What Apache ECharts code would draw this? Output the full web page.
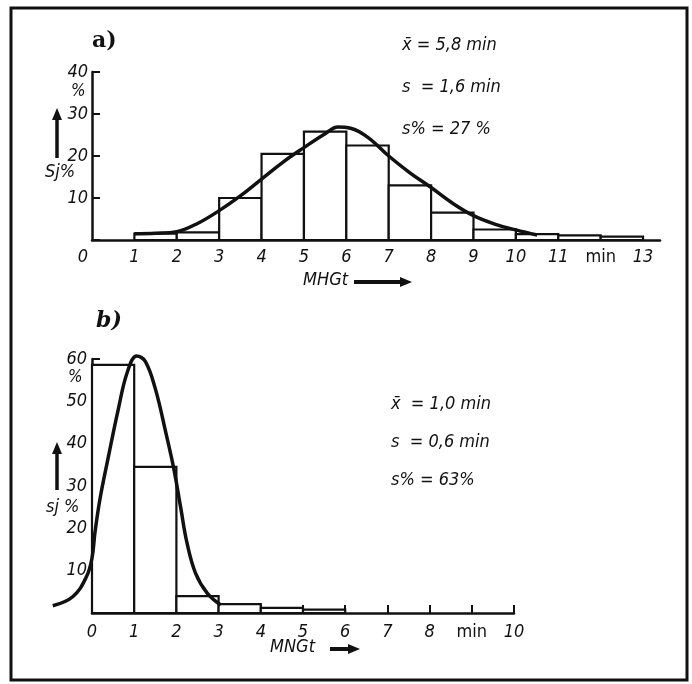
<!DOCTYPE html>
<html><head><meta charset="utf-8">
<script src="https://cdn.jsdelivr.net/npm/echarts@6/dist/echarts.min.js"></script>
<style>html,body{margin:0;padding:0;background:#fff}#c{width:692px;height:684px}</style>
</head><body><div id="c"></div>
<script>
// ---- Data: panel a) MHGt ----
const topBinStart = [1, 2, 3, 4, 5, 6, 7, 8, 9, 10, 11, 12];
const topBinEnd   = [2, 3, 4, 5, 6, 7, 8, 9, 10, 11, 12, 13];
const topFreq     = [1.5, 1.8, 10, 20.5, 25.8, 22.5, 13, 6.5, 2.5, 1.4, 1.1, 0.8];
const topCurveX   = [1, 1.5, 2, 2.5, 3, 3.5, 4, 4.5, 5, 5.5, 5.8, 6.1, 6.5, 7, 7.5, 8, 8.5, 9, 9.5, 10, 10.5];
const topCurveY   = [1.5, 1.6, 2.0, 4.0, 7.0, 10.5, 14.5, 18.5, 22, 25.3, 26.9, 26.6, 24.5, 20, 16, 12.5, 8.8, 5.8, 3.8, 2.4, 1.2];
const topYTicks   = [10, 20, 30, 40];
const topStats    = ['x\u0304 = 5,8 min', 's  = 1,6 min', 's% = 27 %'];

// ---- Data: panel b) MNGt ----
const botBinStart = [0, 1, 2, 3, 4, 5];
const botBinEnd   = [1, 2, 3, 4, 5, 6];
const botFreq     = [58.6, 34.5, 4.0, 2.1, 1.2, 0.8];
const botCurveX   = [-0.93, -0.45, -0.13, 0, 0.07, 0.19, 0.39, 0.62, 0.84, 1.06, 1.26, 1.5, 1.74, 1.94, 2.1, 2.25, 2.45, 2.73, 3.05];
const botCurveY   = [1.7, 3.9, 8.6, 13, 19, 27, 37, 48, 57, 60.7, 59.5, 53, 43, 34, 25, 16.6, 9.5, 4.7, 1.9];
const botYTicks   = [10, 20, 30, 40, 50, 60];
const botStats    = ['x\u0304  = 1,0 min', 's  = 0,6 min', 's% = 63%'];

const FONT = '"DejaVu Sans Condensed","Liberation Sans Narrow","DejaVu Sans",sans-serif';
const INK = '#111';
const FS = 18;

function bins(s, e, v) { return s.map((x, i) => [x, e[i], v[i]]); }
function pairs(xs, ys) { return xs.map((x, i) => [x, ys[i]]); }

function histRender(params, api) {
  const p0 = api.coord([api.value(0), api.value(2)]);
  const p1 = api.coord([api.value(1), 0]);
  return {
    type: 'rect',
    shape: { x: p0[0], y: p0[1], width: p1[0] - p0[0], height: p1[1] - p0[1] },
    style: { fill: '#fff', stroke: INK, lineWidth: 2.2 }
  };
}

function xLabel(minWord, shiftZero) {
  return function (v) {
    if (!Number.isInteger(v)) return '';
    if (v === minWord) return '{m|min}';
    if (v === 0 && shiftZero) return '{z|0}';
    return String(v);
  };
}

const axisLine = { show: true, lineStyle: { color: INK, width: 2.5 } };
const labelBase = { color: INK, fontFamily: FONT, fontStyle: 'italic', fontSize: FS,
  rich: { m: { fontFamily: FONT, fontStyle: 'normal', fontSize: 18, color: INK },
          z: { fontFamily: FONT, fontStyle: 'italic', fontSize: FS, color: INK, padding: [0, 18, 0, 0] } } };

const chart = echarts.init(document.getElementById('c'), null, { renderer: 'canvas' });

const txt = (x, y, s, opt = {}) => ({
  type: 'text', left: x, top: y,
  style: Object.assign({ text: s, fill: INK, font: 'italic 18px ' + FONT }, opt)
});
const arrowUp = (x, y1, y2) => ([
  { type: 'line', shape: { x1: x, y1: y2, x2: x, y2: y1 + 10 }, style: { stroke: INK, lineWidth: 3.5 } },
  { type: 'polygon', shape: { points: [[x - 5, y1 + 12], [x + 5, y1 + 12], [x, y1]] }, style: { fill: INK } }
]);
const arrowRight = (x1, x2, y) => ([
  { type: 'line', shape: { x1: x1, y1: y, x2: x2 - 10, y2: y }, style: { stroke: INK, lineWidth: 4 } },
  { type: 'polygon', shape: { points: [[x2 - 12, y - 5], [x2 - 12, y + 5], [x2, y]] }, style: { fill: INK } }
]);

const graphics = [
  { type: 'rect', shape: { x: 11, y: 8, width: 676, height: 672 }, style: { fill: 'none', stroke: INK, lineWidth: 3 } },
  txt(92, 30, 'a)', { font: 'bold 22px "DejaVu Serif",serif' }),
  txt(96, 310, 'b)', { font: 'bold italic 22px "DejaVu Serif",serif' }),
  txt(71, 83, '%', { font: 'italic 17px ' + FONT }),
  txt(68, 369, '%', { font: 'italic 17px ' + FONT }),
  txt(45, 163, 'Sj%', { font: 'italic 18px ' + FONT }),
  txt(46, 498, 'sj %', { font: 'italic 18px ' + FONT }),
  ...arrowUp(57, 108, 158),
  ...arrowUp(57, 442, 490),
  txt(303, 271, 'MHGt', { font: 'italic 18px ' + FONT }),
  ...arrowRight(354, 412, 282),
  txt(270, 638, 'MNGt', { font: 'italic 18px ' + FONT }),
  ...arrowRight(330, 360, 649)
];
topStats.forEach((s, i) => graphics.push(txt(402, 36 + i * 42, s)));
botStats.forEach((s, i) => graphics.push(txt(391, 395 + i * 38, s)));

const UNIT_B = 42.2;
const hiddenAxis = { show: false, splitLine: { show: false } };

chart.setOption({
  backgroundColor: '#fff',
  animation: false,
  grid: [
    { left: 92, top: 72, width: 568, height: 168 },
    { left: 92, top: 359, width: 422, height: 254 },
    { left: 92 - UNIT_B, top: 359, width: 422 + UNIT_B, height: 254 }
  ],
  xAxis: [
    { gridIndex: 0, type: 'value', min: 0, max: 13.4, interval: 1, splitLine: { show: false },
      axisLine: axisLine, axisTick: { show: false },
      axisLabel: Object.assign({}, labelBase, { margin: 8, formatter: xLabel(12, true), showMaxLabel: false }) },
    { gridIndex: 1, type: 'value', min: 0, max: 10, interval: 1, splitLine: { show: false },
      axisLine: axisLine, axisTick: { show: true, inside: true, length: 8, lineStyle: { color: INK, width: 2 } },
      axisLabel: Object.assign({}, labelBase, { margin: 10, formatter: xLabel(9, false) }) },
    Object.assign({ gridIndex: 2, type: 'value', min: -1, max: 10 }, hiddenAxis)
  ],
  yAxis: [
    { gridIndex: 0, type: 'value', min: 0, max: 40, interval: 10, splitLine: { show: false },
      axisLine: axisLine, axisTick: { show: true, inside: true, length: 8, lineStyle: { color: INK, width: 2 } },
      axisLabel: Object.assign({}, labelBase, { margin: 4, formatter: v => (topYTicks.includes(v) ? String(v) : '') }) },
    { gridIndex: 1, type: 'value', min: 0, max: 60, interval: 10, splitLine: { show: false },
      axisLine: axisLine, axisTick: { show: true, inside: true, length: 8, lineStyle: { color: INK, width: 2 } },
      axisLabel: Object.assign({}, labelBase, { margin: 5, formatter: v => (botYTicks.includes(v) ? String(v) : '') }) },
    Object.assign({ gridIndex: 2, type: 'value', min: 0, max: 60 }, hiddenAxis)
  ],
  series: [
    { type: 'custom', xAxisIndex: 0, yAxisIndex: 0, renderItem: histRender,
      encode: { x: [0, 1], y: 2 }, data: bins(topBinStart, topBinEnd, topFreq), z: 2 },
    { type: 'line', xAxisIndex: 0, yAxisIndex: 0, data: pairs(topCurveX, topCurveY), smooth: 0.4,
      showSymbol: false, clip: false, lineStyle: { color: INK, width: 3.5 }, z: 3 },
    { type: 'custom', xAxisIndex: 1, yAxisIndex: 1, renderItem: histRender,
      encode: { x: [0, 1], y: 2 }, data: bins(botBinStart, botBinEnd, botFreq), z: 2 },
    { type: 'line', xAxisIndex: 2, yAxisIndex: 2, data: pairs(botCurveX, botCurveY), smooth: 0.4,
      showSymbol: false, clip: false, lineStyle: { color: INK, width: 3.5 }, z: 3 }
  ],
  graphic: graphics
});
</script></body></html>
